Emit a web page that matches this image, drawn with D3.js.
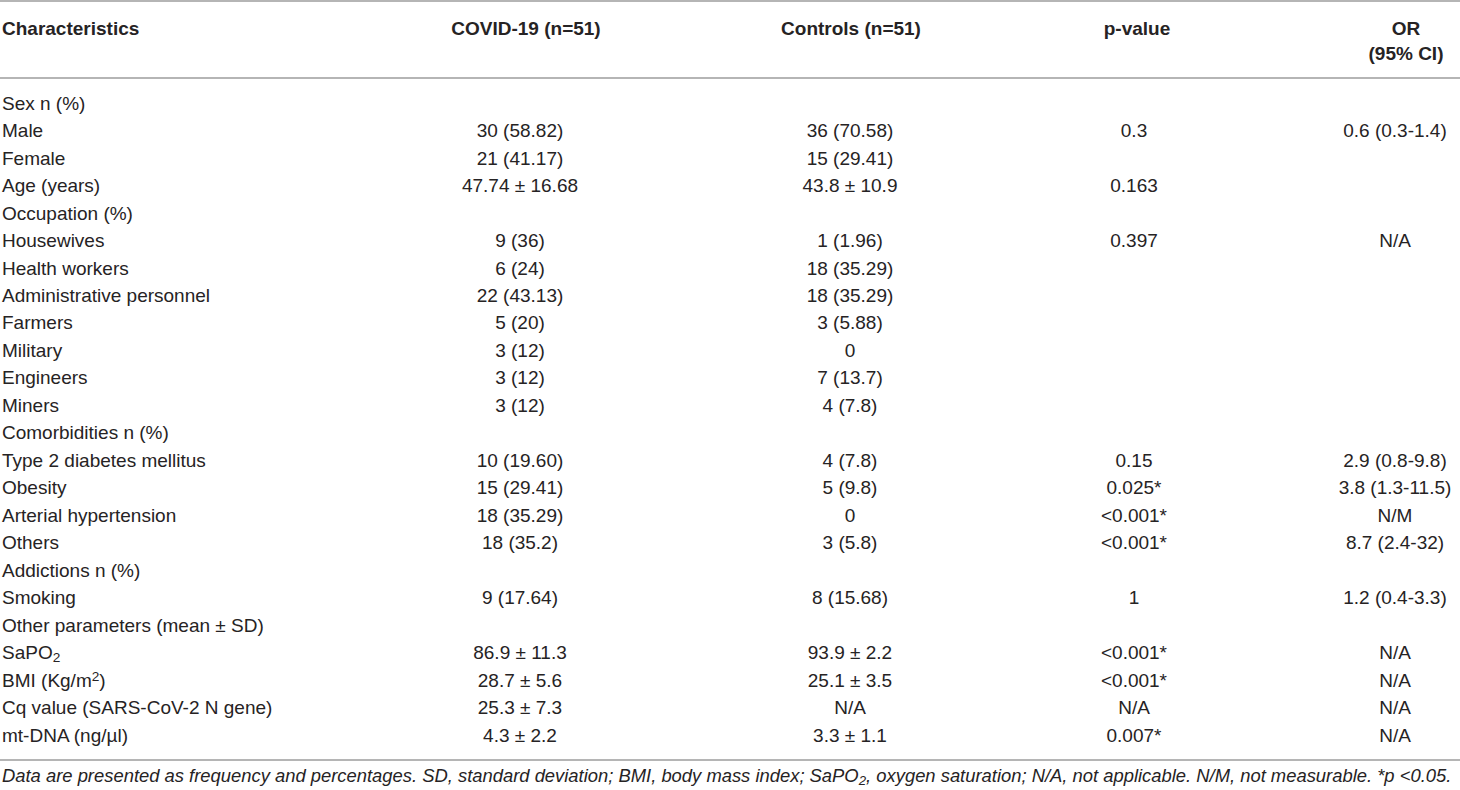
<!DOCTYPE html>
<html>
<head>
<meta charset="utf-8">
<script src="https://cdn.jsdelivr.net/npm/d3@7"></script>
<style>
  body { margin: 0; background: #fff; }
  text { font-family: "Liberation Sans", Arial, sans-serif; fill: #262324; }
</style>
</head>
<body>
<div id="chart"></div>
<script>
// table content
const headers = ["Characteristics", "COVID-19 (n=51)", "Controls (n=51)", "p-value", "OR|(95% CI)"];

const characteristics = [
  "Sex n (%)", "Male", "Female", "Age (years)", "Occupation (%)", "Housewives",
  "Health workers", "Administrative personnel", "Farmers", "Military", "Engineers", "Miners",
  "Comorbidities n (%)", "Type 2 diabetes mellitus", "Obesity", "Arterial hypertension", "Others",
  "Addictions n (%)", "Smoking", "Other parameters (mean ± SD)", "SaPO_2", "BMI (Kg/m^2)",
  "Cq value (SARS-CoV-2 N gene)", "mt-DNA (ng/µl)"
];
const covid = [
  "", "30 (58.82)", "21 (41.17)", "47.74 ± 16.68", "", "9 (36)",
  "6 (24)", "22 (43.13)", "5 (20)", "3 (12)", "3 (12)", "3 (12)",
  "", "10 (19.60)", "15 (29.41)", "18 (35.29)", "18 (35.2)",
  "", "9 (17.64)", "", "86.9 ± 11.3", "28.7 ± 5.6",
  "25.3 ± 7.3", "4.3 ± 2.2"
];
const controls = [
  "", "36 (70.58)", "15 (29.41)", "43.8 ± 10.9", "", "1 (1.96)",
  "18 (35.29)", "18 (35.29)", "3 (5.88)", "0", "7 (13.7)", "4 (7.8)",
  "", "4 (7.8)", "5 (9.8)", "0", "3 (5.8)",
  "", "8 (15.68)", "", "93.9 ± 2.2", "25.1 ± 3.5",
  "N/A", "3.3 ± 1.1"
];
const pValues = [
  "", "0.3", "", "0.163", "", "0.397",
  "", "", "", "", "", "",
  "", "0.15", "0.025*", "<0.001*", "<0.001*",
  "", "1", "", "<0.001*", "<0.001*",
  "N/A", "0.007*"
];
const oddsRatios = [
  "", "0.6 (0.3-1.4)", "", "", "", "N/A",
  "", "", "", "", "", "",
  "", "2.9 (0.8-9.8)", "3.8 (1.3-11.5)", "N/M", "8.7 (2.4-32)",
  "", "1.2 (0.4-3.3)", "", "N/A", "N/A",
  "N/A", "N/A"
];
const footnote = "Data are presented as frequency and percentages. SD, standard deviation; BMI, body mass index; SaPO_2, oxygen saturation; N/A, not applicable. N/M, not measurable. *p <0.05.";

const width = 1460, height = 790;
const fontSize = 19;

const svg = d3.select("#chart")
  .append("svg")
  .attr("width", width)
  .attr("height", height);

const y = d3.scaleLinear().domain([0, characteristics.length - 1]).range([103, 735]);
const colHeadX = [2, 526, 851, 1137, 1406];
const colDataX = [2, 520, 850, 1134, 1395];

// writes a string with _x (subscript) and ^x (superscript) markers as tspans
function richText(sel, str) {
  const parts = str.split(/([_^]\S)/);
  parts.forEach(p => {
    if (p === "") return;
    if (p[0] === "_" && p.length === 2) {
      sel.append("tspan").attr("baseline-shift", "-22%").attr("font-size", "0.72em").text(p[1]);
    } else if (p[0] === "^" && p.length === 2) {
      sel.append("tspan").attr("baseline-shift", "40%").attr("font-size", "0.72em").text(p[1]);
    } else {
      sel.append("tspan").text(p);
    }
  });
}

// rules
svg.selectAll("line.rule")
  .data([1, 78, 760])
  .enter().append("line")
  .attr("class", "rule")
  .attr("x1", 0).attr("x2", width)
  .attr("y1", d => d).attr("y2", d => d)
  .attr("stroke", "#9d9d9d")
  .attr("stroke-width", 1.6);

// header
headers.forEach((h, i) => {
  h.split("|").forEach((line, k) => {
    svg.append("text")
      .attr("x", colHeadX[i])
      .attr("y", 28 + k * 25)
      .attr("dy", "0.35em")
      .attr("text-anchor", i === 0 ? "start" : "middle")
      .attr("font-size", fontSize)
      .attr("font-weight", "bold")
      .text(line);
  });
});

// body rows
const columns = [characteristics, covid, controls, pValues, oddsRatios];
columns.forEach((col, i) => {
  svg.append("g")
    .selectAll("text")
    .data(col)
    .enter().append("text")
    .attr("x", colDataX[i])
    .attr("y", (d, r) => y(r))
    .attr("dy", "0.35em")
    .attr("text-anchor", i === 0 ? "start" : "middle")
    .attr("font-size", fontSize)
    .each(function(d) { richText(d3.select(this), d); });
});

// footnote
const note = svg.append("text")
  .attr("x", 2)
  .attr("y", 776)
  .attr("dy", "0.35em")
  .attr("font-size", 18.4)
  .attr("font-style", "italic");
richText(note, footnote);
</script>
</body>
</html>
